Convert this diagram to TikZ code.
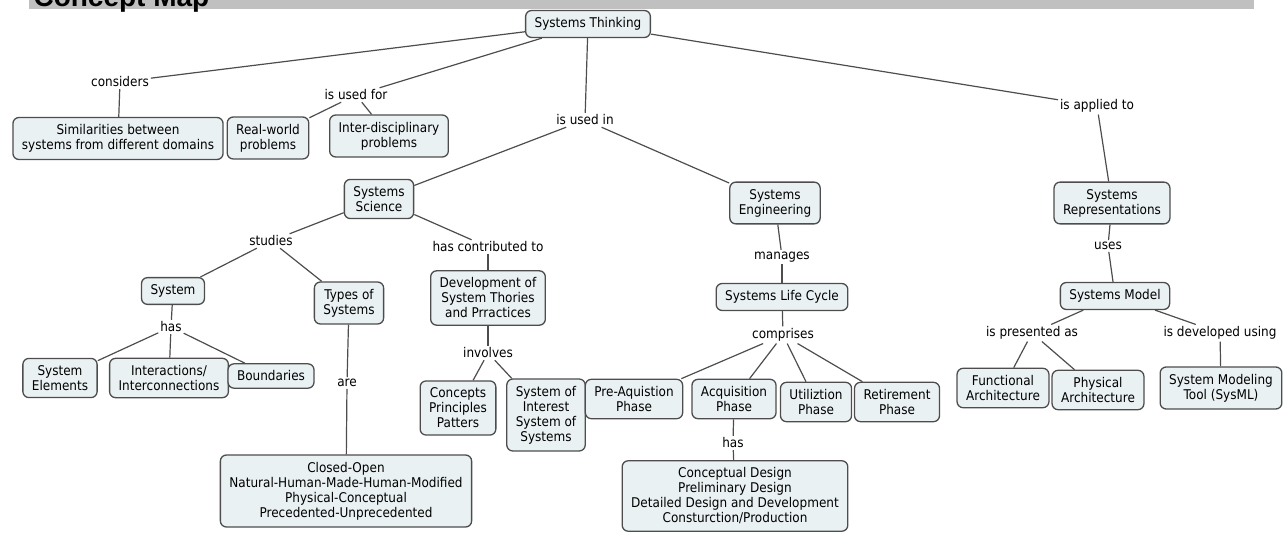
\documentclass[tikz,border=0pt]{standalone}
\usepackage{fontspec}
\setmainfont{DejaVu Sans}[FakeStretch=0.9]
\newfontfamily\headfont{Liberation Sans}
\usetikzlibrary{positioning}
\definecolor{cfill}{HTML}{EAF1F3}
\definecolor{cline}{HTML}{4D4D4D}
\definecolor{cbar}{HTML}{C0C0C0}
\tikzset{
  every picture/.style={line width=1.1pt},
  concept/.style={draw=cline, line width=1.3pt, fill=cfill, rounded corners=6pt, align=center, inner xsep=9pt, inner ysep=7pt, font=\fontsize{13.4}{15}\selectfont},
  link/.style={inner sep=1.5pt, align=center, font=\fontsize{13.4}{15}\selectfont},
  edge/.style={draw=cline, line width=1.2pt},
  header/.style={anchor=base west, inner sep=0pt, font=\headfont\bfseries\fontsize{28}{28}\selectfont},
}

\begin{document}
\begin{tikzpicture}[x=1pt, y=-1pt]
  \useasboundingbox (0,0) rectangle (1285,534);
  \fill[cbar] (29,-30) rectangle (1254,9);
  \node[header] (title) at (33,7) {Concept Map};

  \node[concept] (think) at (588,24) {Systems Thinking};
  \node[link] (considers) at (120,82) {considers};
  \node[concept] (simil) at (118,138.5) {Similarities between\\systems from different domains};
  \node[link] (usedfor) at (356,95) {is used for};
  \node[concept] (realw) at (268,138) {Real-world\\problems};
  \node[concept] (interd) at (389,136) {Inter-disciplinary\\problems};
  \node[link] (usedin) at (585,120) {is used in};
  \node[link] (applied) at (1097,106) {is applied to};

  \node[concept] (science) at (379,199) {Systems\\Science};
  \node[concept] (engin) at (775,203) {Systems\\Engineering};
  \node[concept] (repres) at (1112,203) {Systems\\Representations};

  \node[link] (studies) at (271,241) {studies};
  \node[link] (contrib) at (488,247) {has contributed to};
  \node[concept] (system) at (173,291) {System};
  \node[concept] (types) at (349,303) {Types of\\Systems};
  \node[concept] (develop) at (488,298) {Development of\\System Thories\\and Prractices};
  \node[link] (hasa) at (171,327) {has};
  \node[concept] (elems) at (60,378) {System\\Elements};
  \node[concept] (interc) at (169,378) {Interactions/\\Interconnections};
  \node[concept] (bounds) at (271,376) {Boundaries};
  \node[link] (are) at (347,383) {are};
  \node[concept] (kinds) at (346,491) {Closed-Open\\Natural-Human-Made-Human-Modified\\Physical-Conceptual\\Precedented-Unprecedented};
  \node[link] (involves) at (488,353) {involves};
  \node[concept] (cpp) at (458,408) {Concepts\\Principles\\Patters};
  \node[concept] (soi) at (546,415) {System of\\Interest\\System of\\Systems};

  \node[link] (manages) at (782,257) {manages};
  \node[concept] (cycle) at (782,297) {Systems Life Cycle};
  \node[link] (comprises) at (783,335) {comprises};
  \node[concept] (pre) at (634,399) {Pre-Aquistion\\Phase};
  \node[concept] (acq) at (734,399) {Acquisition\\Phase};
  \node[concept] (util) at (816,402) {Utiliztion\\Phase};
  \node[concept] (retire) at (897,402) {Retirement\\Phase};
  \node[link] (hasb) at (733,443) {has};
  \node[concept] (design) at (735,496) {Conceptual Design\\Preliminary Design\\Detailed Design and Development\\Consturction/Production};

  \node[link] (uses) at (1108,246) {uses};
  \node[concept] (model) at (1115,296) {Systems Model};
  \node[link] (presented) at (1032,333) {is presented as};
  \node[link] (developed) at (1220,333) {is developed using};
  \node[concept] (func) at (1003,388) {Functional\\Architecture};
  \node[concept] (phys) at (1098,390) {Physical\\Architecture};
  \node[concept] (tool) at (1221,388) {System Modeling\\Tool (SysML)};

  \foreach \a/\b in {think/considers, considers/simil, think/usedfor, usedfor/realw, usedfor/interd,
    think/usedin, usedin/science, usedin/engin, think/applied, applied/repres,
    science/studies, studies/system, studies/types, science/contrib, contrib/develop,
    system/hasa, hasa/elems, hasa/interc, hasa/bounds, types/are, are/kinds,
    develop/involves, involves/cpp, involves/soi,
    engin/manages, manages/cycle, cycle/comprises, comprises/pre, comprises/acq, comprises/util, comprises/retire,
    acq/hasb, hasb/design,
    repres/uses, uses/model, model/presented, presented/func, presented/phys, model/developed, developed/tool}
    \draw[edge] (\a) -- (\b);
\end{tikzpicture}
\end{document}
